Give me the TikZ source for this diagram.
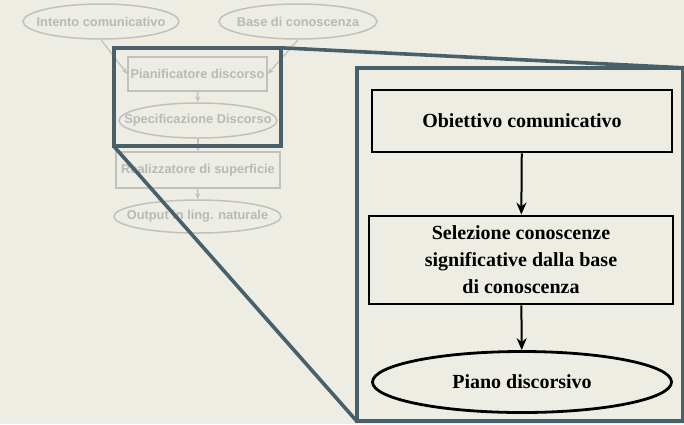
\documentclass[tikz,border=0pt]{standalone}
\usepackage{fontspec}
\setmainfont{Liberation Serif}
\setsansfont{Liberation Sans}
\usetikzlibrary{shapes.geometric,arrows.meta}
\definecolor{bgpaper}{RGB}{238,237,228}
\definecolor{faded}{RGB}{192,192,190}
\definecolor{fadedtext}{RGB}{185,185,183}
\definecolor{slate}{RGB}{72,96,106}
\tikzset{
  x=1pt, y=-1pt,
  oldfont/.style={font=\sffamily\bfseries\fontsize{12.8}{14}\selectfont, text=fadedtext},
  oldellipse/.style={ellipse, draw=faded, line width=1.5pt, inner xsep=-30pt, inner ysep=0pt, oldfont},
  oldbox/.style={rectangle, draw=faded, line width=1.5pt, inner sep=0pt, oldfont},
  oldarrow/.style={draw=faded, line width=1.2pt, -{Stealth[length=6pt,width=5pt]}},
  newfont/.style={font=\rmfamily\bfseries\fontsize{20}{27}\selectfont},
  newbox/.style={rectangle, draw=black, line width=2.8pt, inner sep=0pt, align=center, newfont},
  newellipse/.style={ellipse, draw=black, line width=2.8pt, inner xsep=-20pt, inner ysep=0pt, newfont},
  newarrow/.style={draw=black, line width=2pt, -{Stealth[length=12pt,width=10pt]}},
  zoomframe/.style={draw=slate, line width=3.6pt}
}
\begin{document}
\begin{tikzpicture}
\fill[bgpaper] (0,0) rectangle (684,424);
\useasboundingbox (0,0) rectangle (684,424);

% pipeline of the generator
\node[oldellipse, minimum width=156pt, minimum height=35pt] (intent) at (101,21.5) {Intento comunicativo};
\node[oldellipse, minimum width=158pt, minimum height=35pt] (kb) at (298,21.5) {Base di conoscenza};
\node[oldbox, minimum width=139pt, minimum height=34pt] (planner) at (197.5,74) {Pianificatore discorso};
\node[oldellipse, minimum width=158pt, minimum height=35pt] (spec) at (198,120.5) {Specificazione Discorso};
\node[oldbox, minimum width=164pt, minimum height=36pt] (real) at (198,170) {Realizzatore di superficie};
\node[oldellipse, minimum width=167pt, minimum height=33pt] (out) at (197.5,216.5) {Output in ling. naturale};

\draw[oldarrow] (intent.south) -- (planner.west);
\draw[oldarrow] (kb.south) -- (planner.east);
\draw[oldarrow] (planner) -- (spec);
\draw[oldarrow] (spec) -- (real);
\draw[oldarrow] (real) -- (out);

% enlarged view of the planner stage
\node[draw=none, minimum width=167pt, minimum height=98pt, inner sep=0pt] (zoomsrc) at (197.5,97) {};
\node[draw=none, fill=bgpaper, minimum width=326pt, minimum height=353pt, inner sep=0pt] (zoomdst) at (520,244.5) {};
\draw[zoomframe] (zoomsrc.north west) rectangle (zoomsrc.south east);
\draw[zoomframe] (zoomsrc.north east) -- (zoomdst.north east);
\draw[zoomframe] (zoomsrc.south west) -- (zoomdst.south west);
\draw[zoomframe] (zoomdst.north west) rectangle (zoomdst.south east);

\node[newbox, minimum width=300pt, minimum height=62pt] (goal) at (522,121) {Obiettivo comunicativo};
\node[newbox, minimum width=304pt, minimum height=88pt] (select) at (521,260) {Selezione conoscenze\\significative dalla base\\di conoscenza};
\node[newellipse, minimum width=299pt, minimum height=61pt] (plan) at (522,382) {Piano discorsivo};

\draw[newarrow] (goal) -- (select);
\draw[newarrow] (select) -- (plan);
\end{tikzpicture}
\end{document}
